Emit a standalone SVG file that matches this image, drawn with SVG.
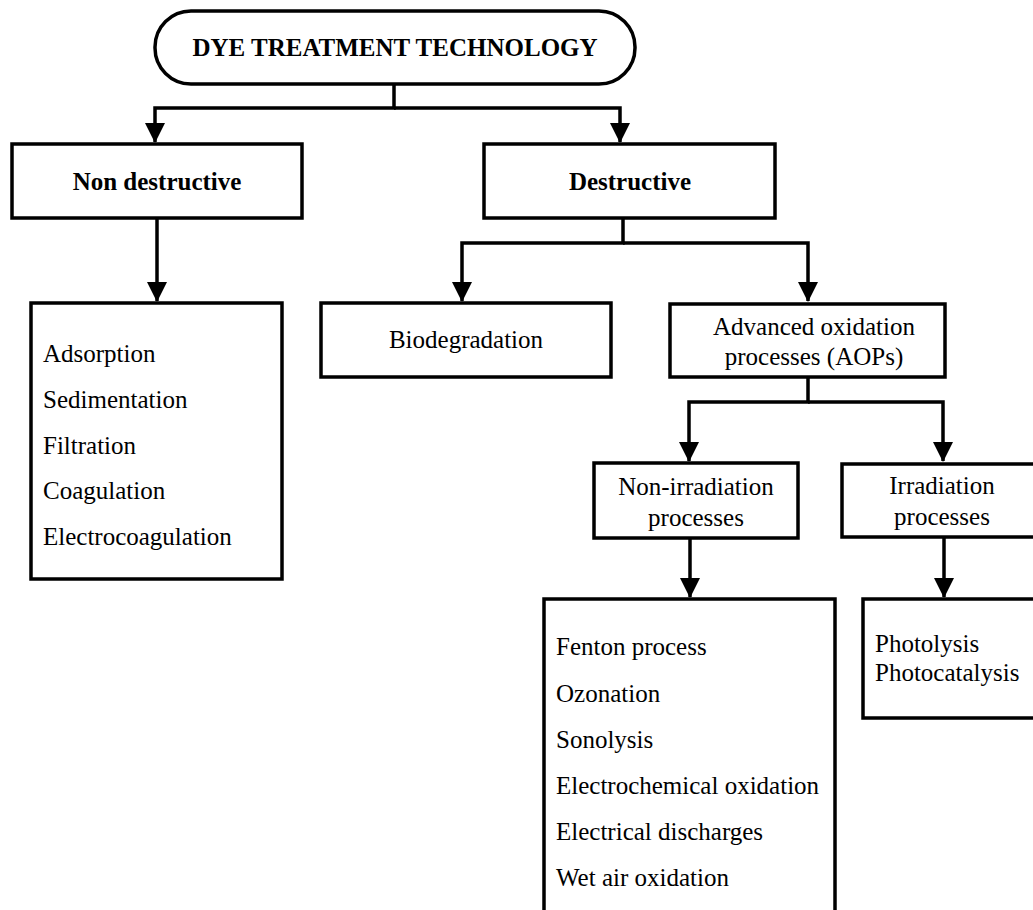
<svg xmlns="http://www.w3.org/2000/svg" width="1033" height="910" viewBox="0 0 1033 910">
<style>
.box{fill:#fff;stroke:#000;stroke-width:3.5}
.c{fill:none;stroke:#000;stroke-width:3.5}
.t{font-family:"Liberation Serif","Times New Roman",serif;font-size:25px;fill:#000}
.b{font-weight:bold}
.m{text-anchor:middle}
</style>
<defs>
<marker id="ah" markerUnits="userSpaceOnUse" markerWidth="20" markerHeight="20" viewBox="0 0 20 20" refX="19" refY="10" orient="auto">
<path d="M0,0 L20,10 L0,20 z" fill="#000"/>
</marker>
</defs>
<rect width="1033" height="910" fill="#fff"/>
<g id="connectors">
<path class="c" d="M394,84 V108 H155 V142" marker-end="url(#ah)"/>
<path class="c" d="M394,108 H620 V142" marker-end="url(#ah)"/>
<path class="c" d="M157,218 V301" marker-end="url(#ah)"/>
<path class="c" d="M623,218 V243 H462 V301" marker-end="url(#ah)"/>
<path class="c" d="M623,243 H808 V301" marker-end="url(#ah)"/>
<path class="c" d="M808,377 V402 H689 V461" marker-end="url(#ah)"/>
<path class="c" d="M808,402 H943 V461" marker-end="url(#ah)"/>
<path class="c" d="M690,538 V597" marker-end="url(#ah)"/>
<path class="c" d="M944,537 V597" marker-end="url(#ah)"/>
</g>
<g id="root">
<rect class="box" x="155" y="11" width="480" height="73" rx="36" ry="36"/>
<text class="t b m" x="395" y="56">DYE TREATMENT TECHNOLOGY</text>
</g>
<g id="nondestructive">
<rect class="box" x="12" y="144" width="290" height="74"/>
<text class="t b m" x="157" y="190">Non destructive</text>
</g>
<g id="destructive">
<rect class="box" x="484" y="144" width="291" height="74"/>
<text class="t b m" x="630" y="190">Destructive</text>
</g>
<g id="nd-list">
<rect class="box" x="31" y="303" width="251" height="276"/>
<text class="t" x="43" y="362">Adsorption</text>
<text class="t" x="43" y="408">Sedimentation</text>
<text class="t" x="43" y="454">Filtration</text>
<text class="t" x="43" y="499">Coagulation</text>
<text class="t" x="43" y="545">Electrocoagulation</text>
</g>
<g id="biodegradation">
<rect class="box" x="321" y="303" width="290" height="74"/>
<text class="t m" x="466" y="348">Biodegradation</text>
</g>
<g id="aops">
<rect class="box" x="670" y="304" width="275" height="73"/>
<text class="t m" x="814" y="335">Advanced oxidation</text>
<text class="t m" x="814" y="365">processes (AOPs)</text>
</g>
<g id="nonirradiation">
<rect class="box" x="594" y="463" width="204" height="75"/>
<text class="t m" x="696" y="495">Non-irradiation</text>
<text class="t m" x="696" y="526">processes</text>
</g>
<g id="irradiation">
<rect class="box" x="842" y="464" width="200" height="73"/>
<text class="t m" x="942" y="494">Irradiation</text>
<text class="t m" x="942" y="525">processes</text>
</g>
<g id="nonirr-list">
<rect class="box" x="544" y="599" width="291" height="330"/>
<text class="t" x="556" y="655">Fenton process</text>
<text class="t" x="556" y="702">Ozonation</text>
<text class="t" x="556" y="748">Sonolysis</text>
<text class="t" x="556" y="794">Electrochemical oxidation</text>
<text class="t" x="556" y="840">Electrical discharges</text>
<text class="t" x="556" y="886">Wet air oxidation</text>
</g>
<g id="irr-list">
<rect class="box" x="863" y="599" width="190" height="119"/>
<text class="t" x="875" y="652">Photolysis</text>
<text class="t" x="875" y="681">Photocatalysis</text>
</g>
</svg>
